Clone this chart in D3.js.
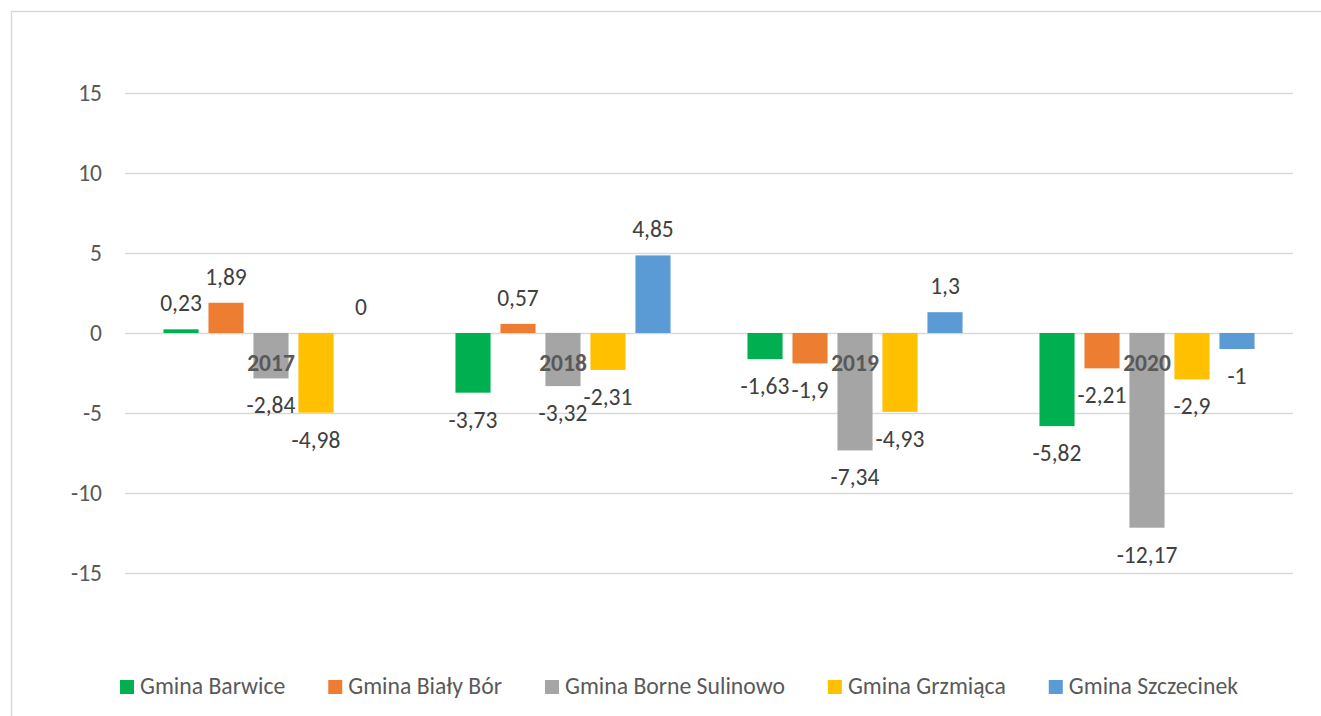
<!DOCTYPE html>
<html>
<head>
<meta charset="utf-8">
<script src="https://cdn.jsdelivr.net/npm/d3@7"></script>
<style>
  html, body { margin: 0; padding: 0; background: #fff; }
  svg { display: block; }
  text { font-family: Calibri, Carlito, Lato, "Noto Sans", sans-serif; }
</style>
</head>
<body>
<div id="chart"></div>
<script>
// dane
const lata = ["2017", "2018", "2019", "2020"];
const gminy = ["Gmina Barwice", "Gmina Biały Bór", "Gmina Borne Sulinowo", "Gmina Grzmiąca", "Gmina Szczecinek"];
const barwice = [0.23, -3.73, -1.63, -5.82];
const bialyBor = [1.89, 0.57, -1.9, -2.21];
const borneSulinowo = [-2.84, -3.32, -7.34, -12.17];
const grzmiaca = [-4.98, -2.31, -4.93, -2.9];
const szczecinek = [0, 4.85, 1.3, -1];
const kolory = ["#00B050", "#ED7D31", "#A5A5A5", "#FFC000", "#5B9BD5"];
const osY = [-15, -10, -5, 0, 5, 10, 15];

const serie = [barwice, bialyBor, borneSulinowo, grzmiaca, szczecinek];

const W = 1321, H = 716;
const margin = { left: 125, right: 28, top: 93, bottom: 143 };
const FS = "23.5px";

const svg = d3.select("#chart").append("svg")
  .attr("width", W).attr("height", H);

// ramka wykresu
svg.append("rect")
  .attr("x", 11.5).attr("y", 11.5)
  .attr("width", W + 20).attr("height", H + 20)
  .attr("fill", "none").attr("stroke", "#d9d9d9").attr("stroke-width", 1.5);

const x0 = d3.scaleBand().domain(lata).range([margin.left, W - margin.right]);
const x1 = d3.scaleBand().domain(gminy).range([0, x0.bandwidth()])
  .paddingInner(0.22).paddingOuter(0.855);
const y = d3.scaleLinear().domain([-15, 15]).range([H - margin.bottom, margin.top]);

// siatka
const yAxis = d3.axisLeft(y).tickValues(osY)
  .tickSize(-(W - margin.right - margin.left)).tickPadding(23)
  .tickFormat(d => String(d));
const gy = svg.append("g").attr("transform", `translate(${margin.left},0)`).call(yAxis);
gy.select(".domain").remove();
gy.selectAll(".tick line").attr("stroke", "#d9d9d9").attr("stroke-width", 1.3);
gy.selectAll(".tick text").attr("fill", "#595959").style("font-size", FS)
  .style("font-family", "Calibri, Carlito, Lato, 'Noto Sans', sans-serif");

// słupki
const dane = [];
lata.forEach((rok, i) => {
  gminy.forEach((g, j) => dane.push({ rok, g, j, v: serie[j][i] }));
});

svg.append("g").selectAll("rect").data(dane).enter().append("rect")
  .attr("x", d => x0(d.rok) + x1(d.g))
  .attr("y", d => y(Math.max(0, d.v)))
  .attr("width", x1.bandwidth())
  .attr("height", d => Math.abs(y(d.v) - y(0)))
  .attr("fill", d => kolory[d.j]);

// etykiety kategorii
svg.append("g").selectAll("text").data(lata).enter().append("text")
  .attr("x", d => x0(d) + x0.bandwidth() / 2)
  .attr("y", y(0) + 38)
  .attr("text-anchor", "middle")
  .attr("fill", "#595959")
  .style("font-size", FS).style("font-weight", "bold")
  .text(d => d);

// etykiety danych
const fmt = v => String(v).replace(".", ",");
svg.append("g").selectAll("text").data(dane).enter().append("text")
  .attr("x", d => x0(d.rok) + x1(d.g) + x1.bandwidth() / 2)
  .attr("y", d => d.v >= 0 ? y(d.v) - 18 : y(d.v) + 35)
  .attr("text-anchor", "middle")
  .attr("fill", "#404040")
  .style("font-size", FS)
  .text(d => fmt(d.v));

// legenda
const leg = svg.append("g");
let lx = 120;
gminy.forEach((g, j) => {
  leg.append("rect").attr("x", lx).attr("y", 680).attr("width", 14).attr("height", 14)
    .attr("fill", kolory[j]);
  const t = leg.append("text").attr("x", lx + 20).attr("y", 694)
    .attr("fill", "#595959").style("font-size", "23.7px").text(g);
  lx += 20 + t.node().getComputedTextLength() + 43;
});
</script>
</body>
</html>
